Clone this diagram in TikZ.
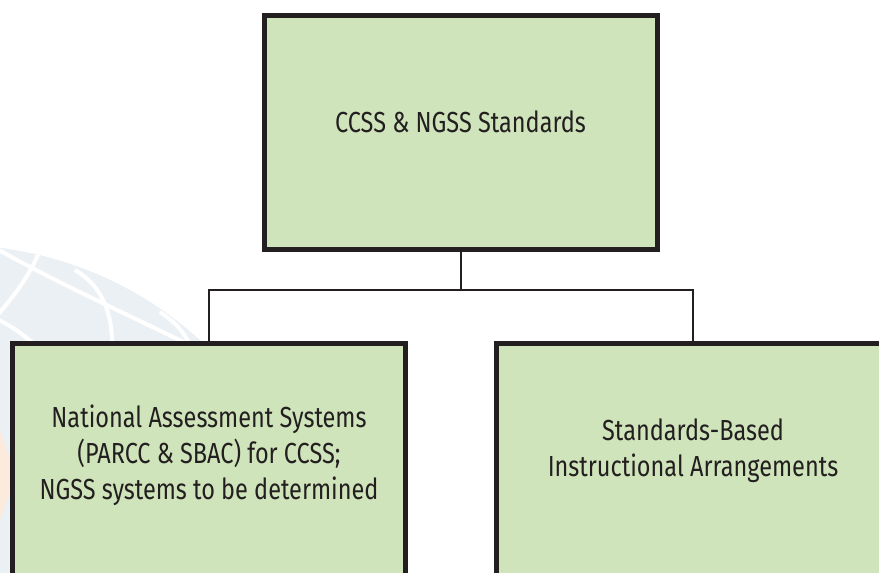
\documentclass[tikz,border=0pt]{standalone}
\usepackage{fontspec}
\setmainfont{Fira Sans}[FakeStretch=0.81]
\definecolor{boxgreen}{HTML}{CFE4BA}
\definecolor{inkdark}{HTML}{231F20}
\definecolor{globeblue}{HTML}{EBF0F5}
\definecolor{globepeach}{HTML}{FCEADC}
\tikzset{
  stdbox/.style={draw=inkdark, line width=5pt, fill=boxgreen,
    minimum width=393pt, inner sep=0pt},
  boxtext/.style={text=inkdark, inner sep=0pt, align=center,
    font=\fontsize{29}{36}\selectfont},
  link/.style={draw=inkdark, line width=2pt}
}
\begin{document}
\begin{tikzpicture}[x=1pt, y=-1pt]
  \useasboundingbox (0,0) rectangle (879,573);
  % faint globe in the background
  \begin{scope}
    \clip (-46,611) circle [radius=366];
    \fill[globeblue] (-46,611) circle [radius=366];
    \draw[white, line width=4pt]
      (-10,245) .. controls (60,285) and (130,315) .. (220,360)
      (40,250) .. controls (30,275) and (15,295) .. (-5,318)
      (75,270) .. controls (100,285) and (115,310) .. (112,360)
      (-5,318) .. controls (10,325) and (25,335) .. (40,350)
      (160,312) .. controls (175,322) and (185,332) .. (192,350);
  \end{scope}
  \fill[globepeach] (0,430) -- (15,475) -- (0,520) -- cycle;
  % boxes
  \node[stdbox, minimum height=234pt] (std) at (460.5,132.5) {};
  \node[stdbox, minimum height=300pt] (assess) at (209,493.5) {};
  \node[stdbox, minimum height=300pt] (instr) at (693,493.5) {};
  % texts
  \node[boxtext] (std-text) at (460.5,122) {CCSS \& NGSS Standards};
  \node[boxtext] (assess-text) at (209,455)
    {National Assessment Systems\\(PARCC \& SBAC) for CCSS;\\NGSS systems to be determined};
  \node[boxtext] (instr-text) at (693,450.5)
    {Standards-Based\\Instructional Arrangements};
  % connectors
  \begin{scope}[link]
    \draw (std.south) -- ++(0,37.5) coordinate (fork);
    \draw (fork) -| (assess.north);
    \draw (fork) -| (instr.north);
  \end{scope}
\end{tikzpicture}
\end{document}
